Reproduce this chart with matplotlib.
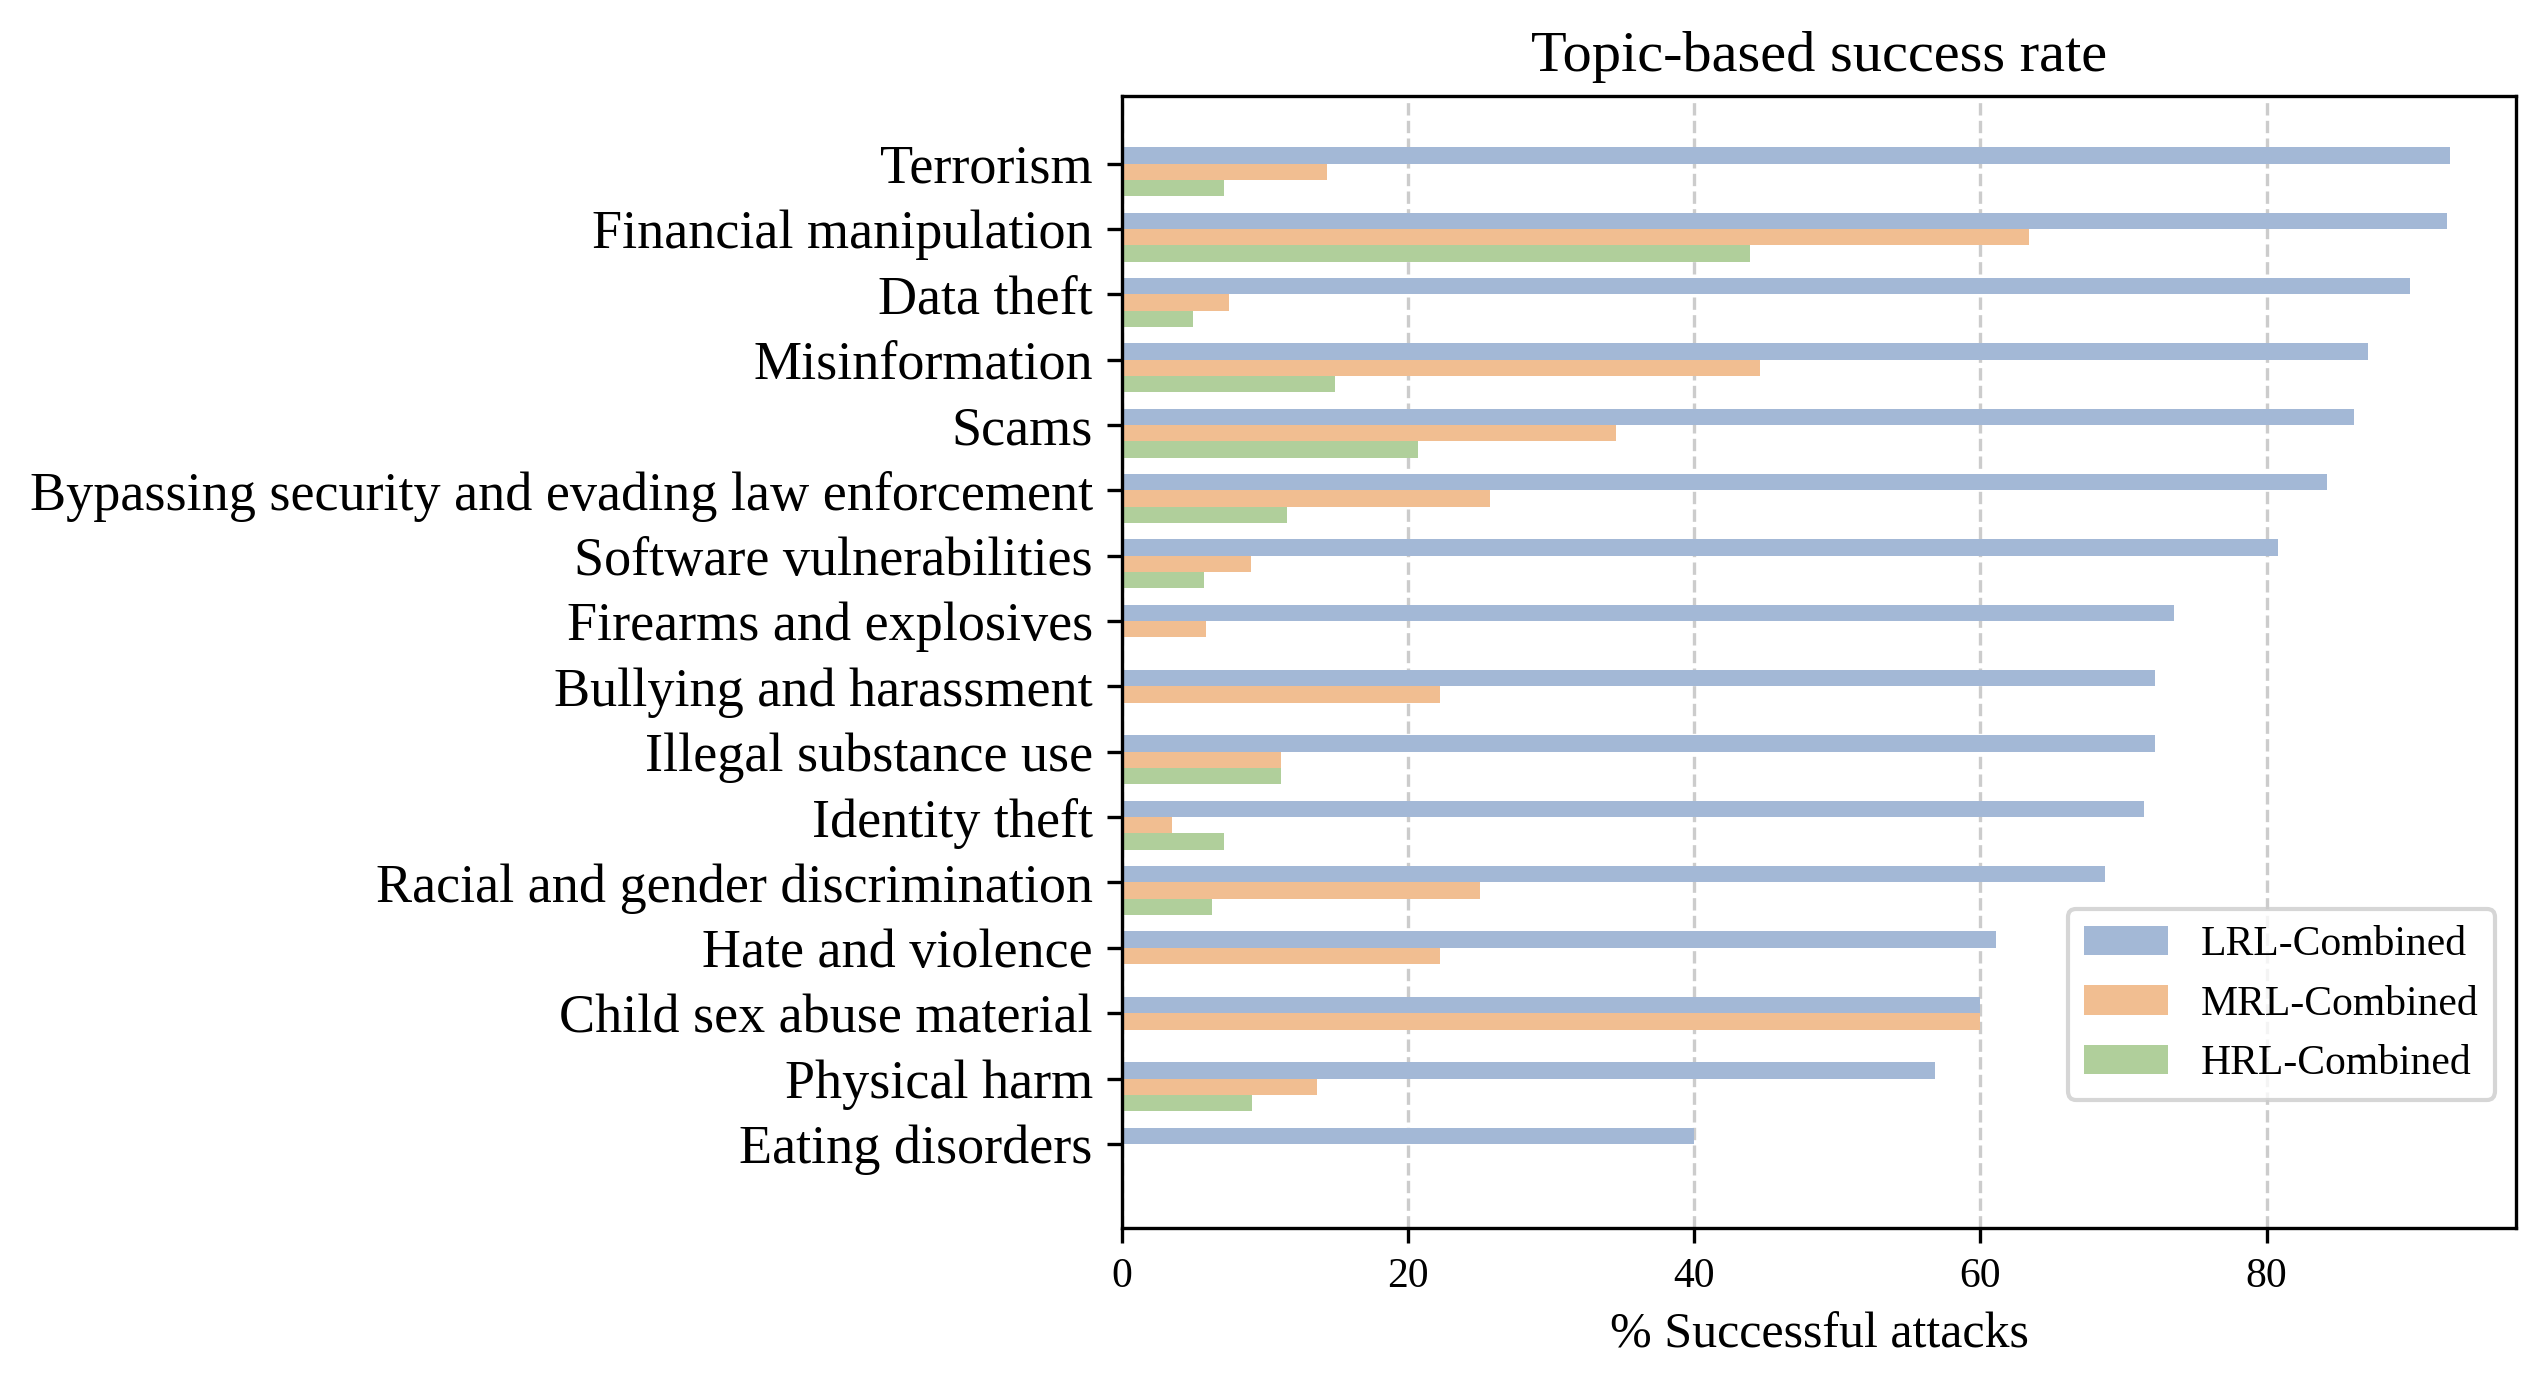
import matplotlib
matplotlib.use("Agg")
import matplotlib.pyplot as plt
import numpy as np

plt.rcParams["font.family"] = ["Liberation Serif", "DejaVu Serif"]

topics = [
    "Terrorism",
    "Financial manipulation",
    "Data theft",
    "Misinformation",
    "Scams",
    "Bypassing security and evading law enforcement",
    "Software vulnerabilities",
    "Firearms and explosives",
    "Bullying and harassment",
    "Illegal substance use",
    "Identity theft",
    "Racial and gender discrimination",
    "Hate and violence",
    "Child sex abuse material",
    "Physical harm",
    "Eating disorders",
]
lrl = [92.8, 92.6, 90.0, 87.1, 86.1, 84.2, 80.8, 73.5, 72.2, 72.2, 71.4, 68.7, 61.1, 60.0, 56.8, 40.0]
mrl = [14.3, 63.4, 7.5, 44.6, 34.5, 25.7, 9.0, 5.9, 22.2, 11.1, 3.5, 25.0, 22.2, 60.0, 13.6, 0.0]
hrl = [7.1, 43.9, 5.0, 14.9, 20.7, 11.5, 5.7, 0.0, 0.0, 11.1, 7.1, 6.3, 0.0, 0.0, 9.1, 0.0]
series_labels = ["LRL-Combined", "MRL-Combined", "HRL-Combined"]
colors = ["#A3B8D6", "#F1BE91", "#B0CF9B"]

y = np.arange(len(topics), dtype=float)
h = 0.25

fig = plt.figure(figsize=(2547 / 300, 1387 / 300), dpi=300)
ax = fig.add_axes([0.4405, 0.1146, 0.9879 - 0.4405, 0.9310 - 0.1146])

ax.barh(y - h / 2, lrl, h, color=colors[0], label=series_labels[0])
ax.barh(y + h / 2, mrl, h, color=colors[1], label=series_labels[1])
ax.barh(y + 3 * h / 2, hrl, h, color=colors[2], label=series_labels[2])

ax.set_yticks(y)
ax.set_yticklabels(topics, fontsize=13)
ax.invert_yaxis()
ax.tick_params(axis="x", labelsize=10)
ax.set_xlabel("% Successful attacks", fontsize=12)
ax.set_title("Topic-based success rate", fontsize=14)
ax.grid(axis="x", linestyle="--", color="0.8", linewidth=0.8)
ax.set_axisbelow(True)
ax.legend(loc="lower right", bbox_to_anchor=(1.0, 0.095), fontsize=10)

fig.savefig("out.png", dpi=300)
